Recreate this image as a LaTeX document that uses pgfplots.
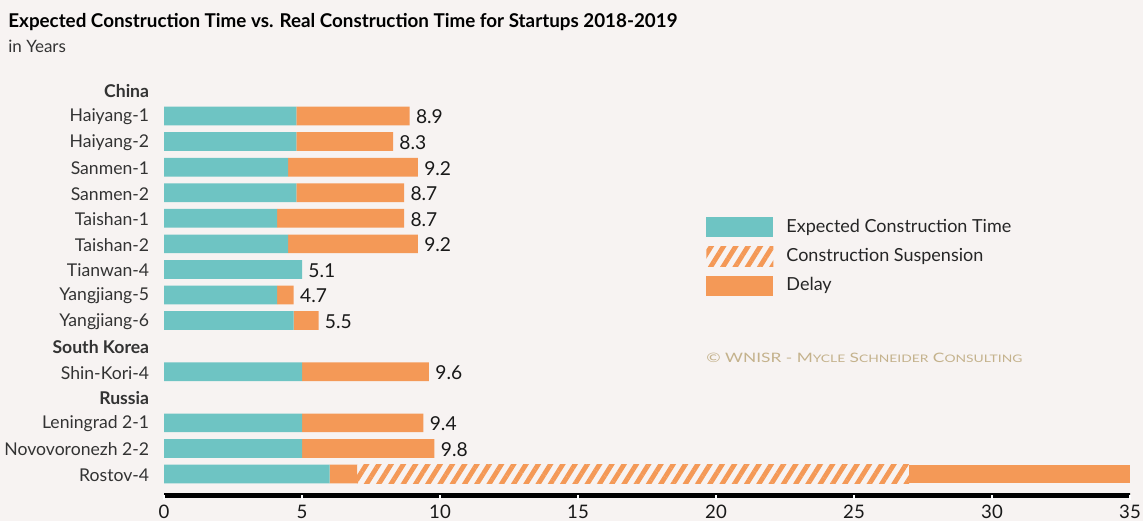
\documentclass[border=0pt]{standalone}
\usepackage{fontspec}
\setmainfont{Lato}
\usepackage{graphicx}
\usepackage{pgfplots}
\pgfplotsset{compat=1.18}
\usepackage{pgfplotstable}
\usetikzlibrary{patterns.meta}
\definecolor{bg}{HTML}{F7F3F2}
\definecolor{tealc}{HTML}{6EC4C3}
\definecolor{orangec}{HTML}{F49957}
\definecolor{wm}{HTML}{C4B28C}
\definecolor{labc}{HTML}{333333}

\pgfplotstableread{
y exp del1 susp del2
14 4.8 4.1 0 0
13 4.8 3.5 0 0
12 4.5 4.7 0 0
11 4.8 3.9 0 0
10 4.1 4.6 0 0
9 4.5 4.7 0 0
8 5.0 0 0 0
7 4.1 0.6 0 0
6 4.7 0.9 0 0
4 5.0 4.6 0 0
2 5.0 4.4 0 0
1 5.0 4.8 0 0
0 6.0 1.0 20.0 8.0
}\datatable

\pgfplotstableread{
y tot lab
14 8.9 8.9
13 8.3 8.3
12 9.2 9.2
11 8.7 8.7
10 8.7 8.7
9 9.2 9.2
8 5.0 5.1
7 4.7 4.7
6 5.6 5.5
4 9.6 9.6
2 9.4 9.4
1 9.8 9.8
}\labeltable

\begin{document}
\begin{tikzpicture}
\useasboundingbox (-82pt,-12pt) rectangle (489.5pt,248.5pt);
\fill[bg] (-82pt,-12pt) rectangle (489.5pt,248.5pt);
\begin{axis}[
  at={(0,0)}, anchor=south west,
  scale only axis, width=483pt, height=210.95pt,
  xbar stacked, bar width=9.35pt,
  xmin=0, xmax=35, ymin=-0.9, ymax=15.6,
  enlargelimits=false,
  axis on top,
  axis x line=bottom, axis y line=left,
  axis line style={draw=none},
  xtick={0,5,...,35},
  ytick={0,...,15},
  yticklabels={Rostov-4, Novovoronezh 2-2, Leningrad 2-1, \textbf{Russia}, Shin-Kori-4, \textbf{South Korea}, Yangjiang-6, Yangjiang-5, Tianwan-4, Taishan-2, Taishan-1, Sanmen-2, Sanmen-1, Haiyang-2, Haiyang-1, \textbf{China}},
  y tick style={draw=none},
  x tick style={white, line width=0.7pt},
  tick align=center, major tick length=2.5pt,
  /pgf/number format/assume math mode=true,
  xticklabel style={font=\fontsize{9.3}{10}\selectfont, text=black!90, inner sep=0pt, yshift=-2.5pt},
  yticklabel style={font=\fontsize{8.8}{10}\selectfont, text=labc, inner sep=0pt, xshift=-6pt, yshift=-0.5pt},
  legend style={at={(0.5611,0.6637)}, anchor=north west, draw=none, fill=none, inner sep=0pt, row sep=4.6pt,
    font=\fontsize{9}{10}\selectfont, nodes={inner sep=0.5pt, text=black!85},
    /tikz/every odd column/.append style={column sep=6pt}},
  legend cell align=left,
]
\draw[black, line width=3.8pt, line cap=round] (rel axis cs:0,0) -- (rel axis cs:1,0);
\addplot[forget plot, fill=tealc, draw=none] table[x=exp, y=y] {\datatable};
\addplot[forget plot, fill=orangec, draw=none] table[x=del1, y=y] {\datatable};
\addplot[forget plot, draw=none, pattern={Lines[angle=58, distance=5.2pt, line width=2.4pt]}, pattern color=orangec] table[x=susp, y=y] {\datatable};
\addplot[forget plot, fill=orangec, draw=none] table[x=del2, y=y] {\datatable};
\addlegendimage{legend image code/.code={\path[fill=tealc, draw=none] (0pt,-5pt) rectangle (33.5pt,5pt);}}
\addlegendentry{Expected Construction Time}
\addlegendimage{legend image code/.code={\path[draw=none, pattern={Lines[angle=58, distance=5.2pt, line width=2.4pt]}, pattern color=orangec] (0pt,-5pt) rectangle (33.5pt,5pt);}}
\addlegendentry{Construction Suspension}
\addlegendimage{legend image code/.code={\path[fill=orangec, draw=none] (0pt,-5pt) rectangle (33.5pt,5pt);}}
\addlegendentry{Delay}
\end{axis}
\begin{axis}[
  at={(0,0)}, anchor=south west,
  scale only axis, width=483pt, height=210.95pt,
  xmin=0, xmax=35, ymin=-0.9, ymax=15.6,
  enlargelimits=false, hide axis, clip=false,
]
\addplot[only marks, mark=none, nodes near coords, point meta=explicit symbolic,
  nodes near coords style={anchor=west, inner sep=0pt, xshift=3pt, yshift=-0.5pt, font=\fontsize{9.6}{10}\selectfont, text=black!90}]
  table[x=tot, y=y, meta=lab] {\labeltable};
\end{axis}
\node[anchor=base west, inner sep=0pt] at (-78pt,235pt) {\resizebox{334.5pt}{\height}{\fontsize{9.5}{11}\selectfont\bfseries Expected Construction Time vs. Real Construction Time for Startups 2018-2019}};
\node[anchor=base west, inner sep=0pt, text=labc] at (-78pt,222.5pt) {\fontsize{8.5}{10}\selectfont in Years};
\node[anchor=west, inner sep=0pt, text=wm] at (271pt,69.5pt) {\resizebox{158pt}{\height}{\fontsize{6.5}{8}\selectfont © WNISR - M{\fontsize{5.2}{6}\selectfont YCLE} S{\fontsize{5.2}{6}\selectfont CHNEIDER} C{\fontsize{5.2}{6}\selectfont ONSULTING}}};
\end{tikzpicture}
\end{document}
